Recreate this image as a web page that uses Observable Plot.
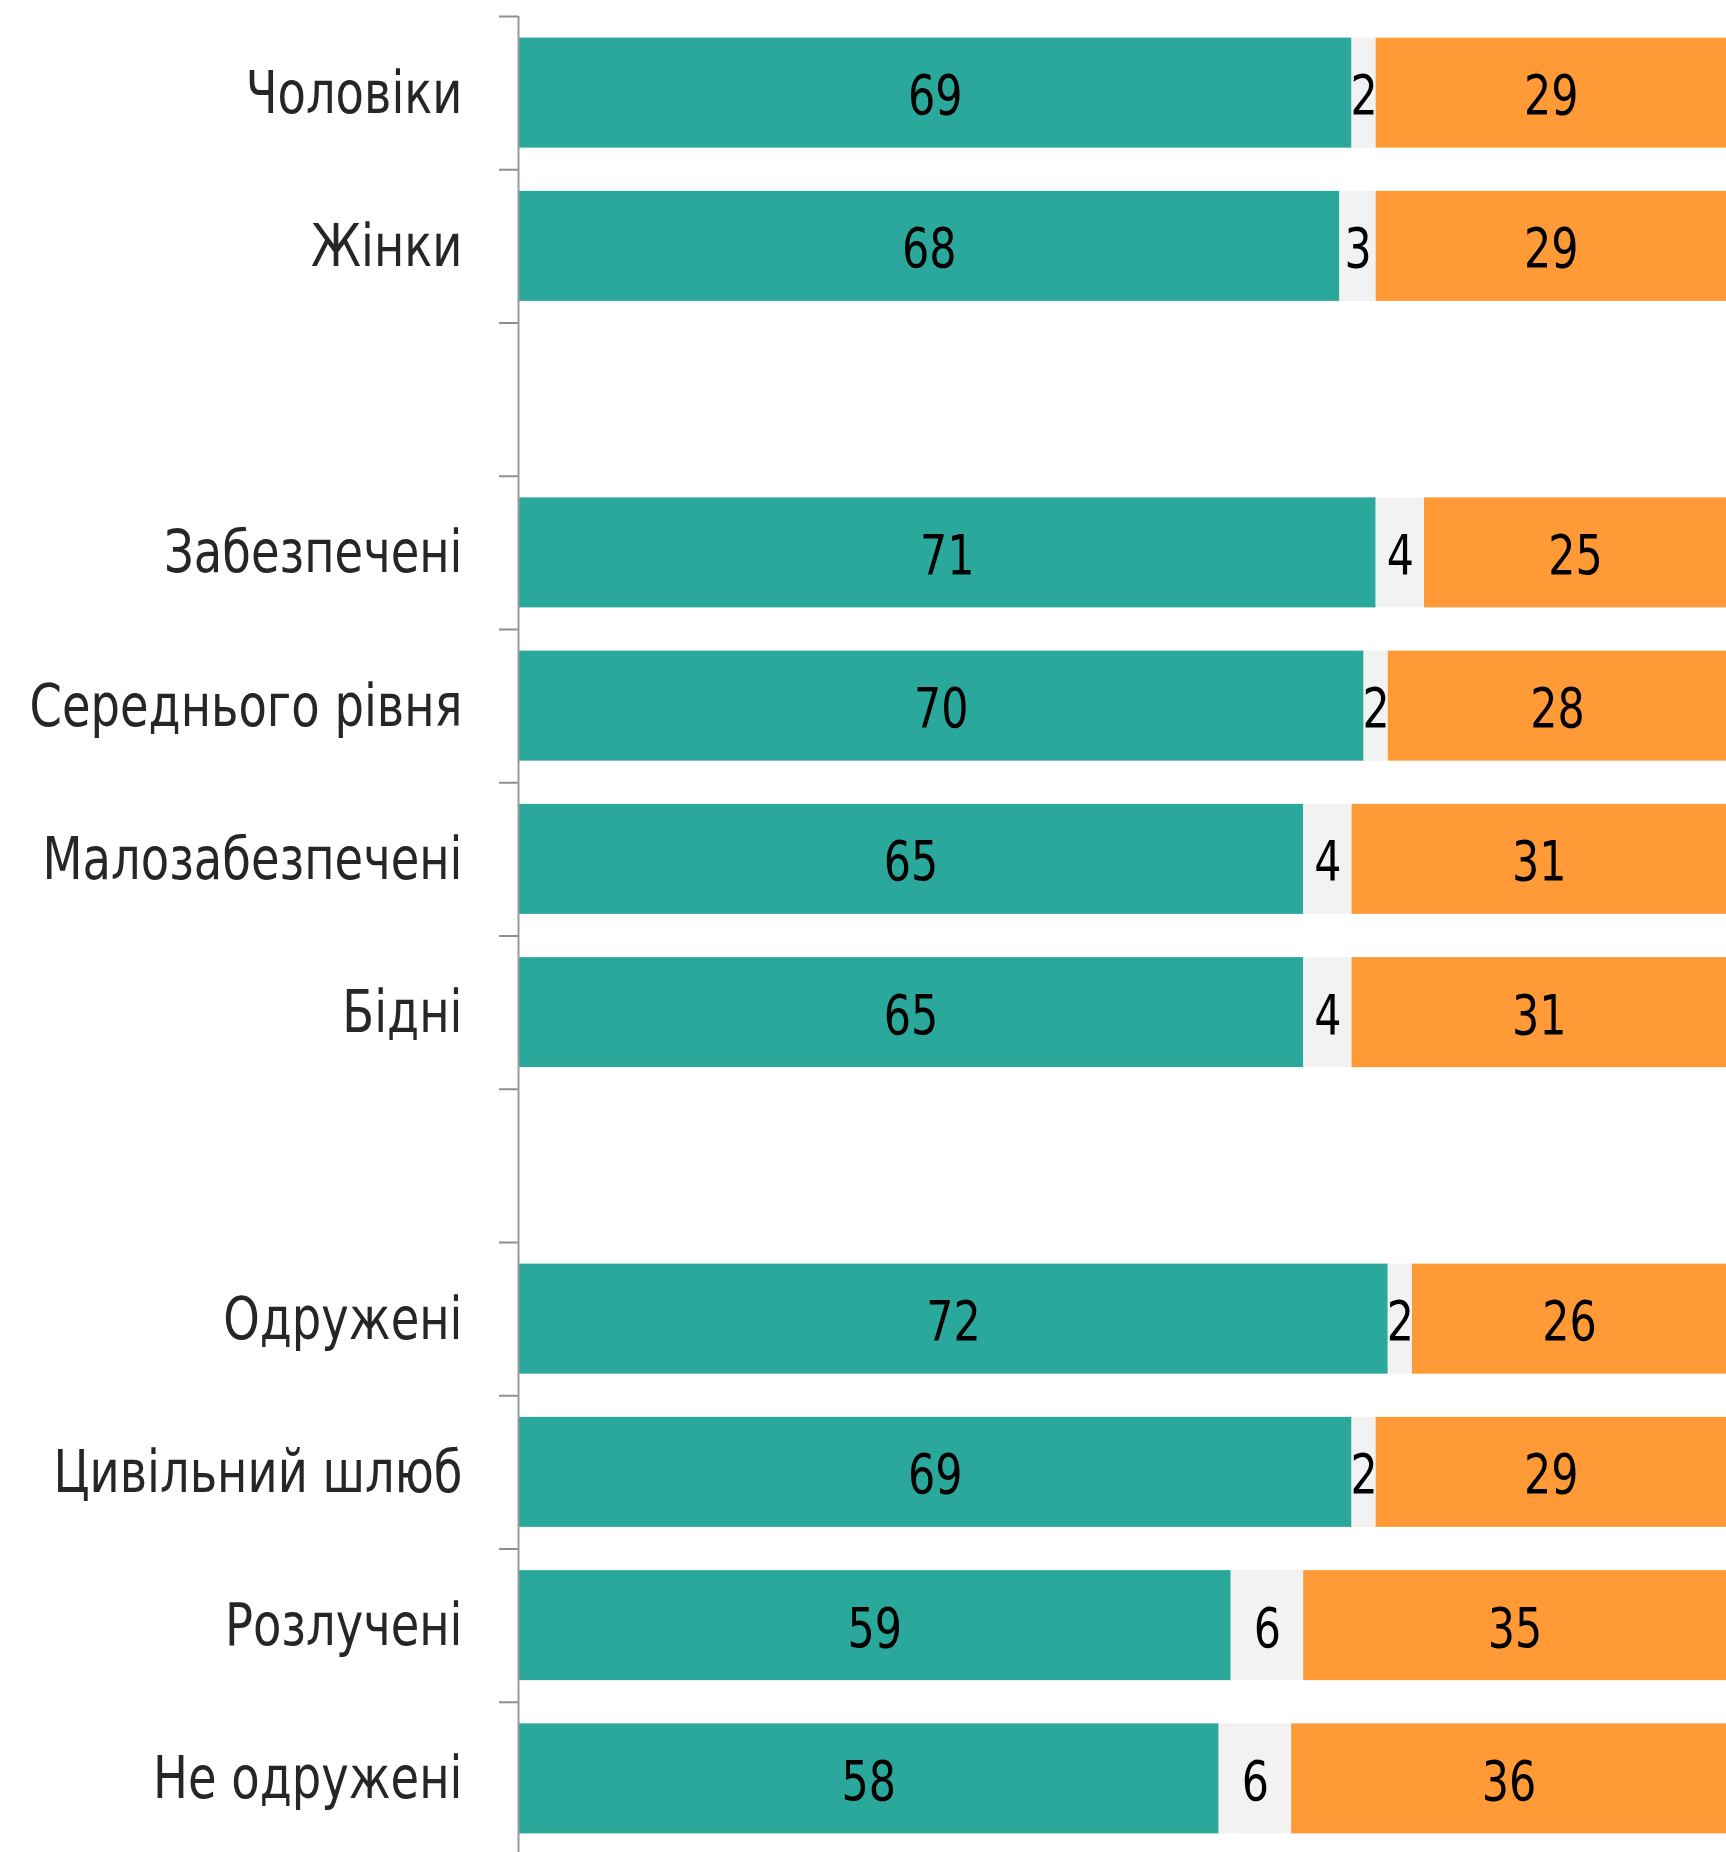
<!DOCTYPE html>
<html>
<head>
<meta charset="utf-8">
<script src="https://cdn.jsdelivr.net/npm/d3@7"></script>
<script src="https://cdn.jsdelivr.net/npm/@observablehq/plot@0.6"></script>
<style>
  html, body { margin: 0; padding: 0; background: #ffffff; }
  #chart svg { display: block; }
</style>
</head>
<body>
<div id="chart"></div>
<script>
// Categories in display order ("" marks an empty spacer row between groups)
const categories = ["Чоловіки", "Жінки", "", "Забезпечені", "Середнього рівня", "Малозабезпечені", "Бідні", "", "Одружені", "Цивільний шлюб", "Розлучені", "Не одружені"];
// Series values (percent)
const seriesA = [69, 68, null, 71, 70, 65, 65, null, 72, 69, 59, 58];   // teal
const seriesB = [2, 3, null, 4, 2, 4, 4, null, 2, 2, 6, 6];             // light grey
const seriesC = [29, 29, null, 25, 28, 31, 31, null, 26, 29, 35, 36];   // orange
const seriesKeys = ["A", "B", "C"];
const seriesColors = ["#2AA89C", "#F2F2F2", "#FF9A36"];

// Build stacked table
const rows = [];
categories.forEach((c, i) => {
  if (!c) return;
  const vals = [seriesA[i], seriesB[i], seriesC[i]];
  let acc = 0;
  vals.forEach((v, k) => {
    rows.push({i, cat: c, series: seriesKeys[k], value: v, x1: acc, x2: acc + v, xm: acc + v / 2});
    acc += v;
  });
});

const boundaries = d3.range(categories.length).map(i => i - 0.5);
const labelled = d3.range(categories.length).filter(i => categories[i]);
const BAR_HALF = 0.359;

const chart = Plot.plot({
  width: 1726,
  height: 1852,
  marginTop: 16,
  marginBottom: 0,
  marginLeft: 518,
  marginRight: 0,
  style: {fontFamily: "'Liberation Sans Narrow', 'DejaVu Sans Condensed', 'DejaVu Sans', sans-serif", fontStretch: "condensed", background: "#ffffff"},
  x: {domain: [0, 100], axis: null},
  y: {domain: [-0.5, 11.5], range: [16, 1855], axis: null},
  color: {domain: seriesKeys, range: seriesColors},
  marks: [
    Plot.rectX(rows, {x1: "x1", x2: "x2", y1: d => d.i - BAR_HALF, y2: d => d.i + BAR_HALF, fill: "series"}),
    Plot.text(rows, {x: "xm", y: "i", text: d => String(d.value), fontSize: 56, fill: "#000000", dy: 3, className: "num"}),
    Plot.axisY({ticks: boundaries, tickSize: 19, tickFormat: () => "", stroke: "#8f8f8f", strokeWidth: 2, label: null}),
    Plot.axisY({ticks: labelled, tickSize: 0, tickPadding: 56, tickFormat: i => categories[i], fontSize: 58, fill: "#262626", dy: 1, label: null, className: "lab"}),
    Plot.ruleX([0], {stroke: "#999999", strokeWidth: 2})
  ]
});
document.getElementById("chart").appendChild(chart);

// Narrow the glyphs to match the reference's condensed typeface
chart.querySelectorAll("g.num text").forEach(t => {
  const w = t.getComputedTextLength();
  if (w > 0) { t.setAttribute("textLength", (w * 0.85).toFixed(1)); t.setAttribute("lengthAdjust", "spacingAndGlyphs"); }
});
chart.querySelectorAll("g.lab text").forEach(t => {
  const w = t.getComputedTextLength();
  if (w > 0) { t.setAttribute("textLength", (w * 0.89).toFixed(1)); t.setAttribute("lengthAdjust", "spacingAndGlyphs"); }
});
</script>
</body>
</html>
